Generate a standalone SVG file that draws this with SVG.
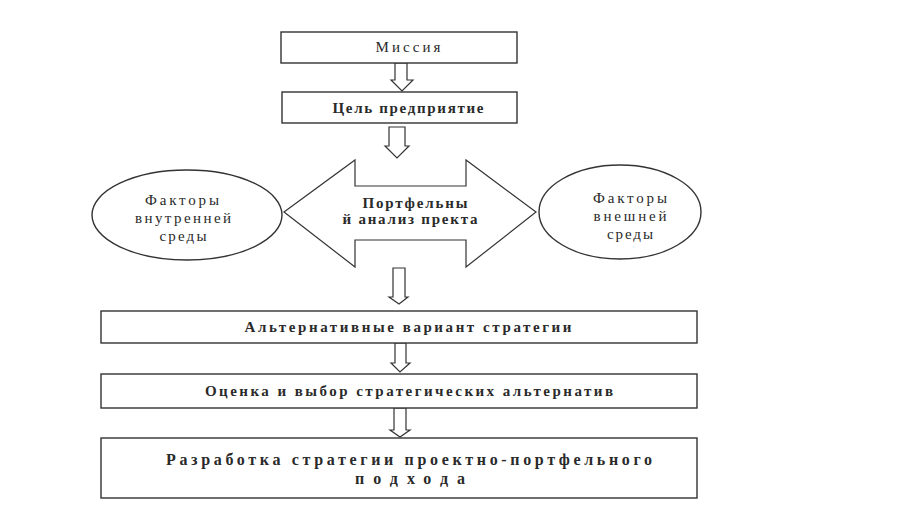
<svg xmlns="http://www.w3.org/2000/svg" width="902" height="506" viewBox="0 0 902 506">
<style>
.box{fill:#fff;stroke:#333;stroke-width:1.4}
.arr{fill:#fff;stroke:#333;stroke-width:1.2;stroke-linejoin:miter}
.t{font-family:"Liberation Serif","Times New Roman",serif;font-size:15px;fill:#2a2a2a;text-anchor:middle}
.b{font-weight:bold}
</style>
<rect width="902" height="506" fill="#fff"/>
<g id="connectors">
<polygon class="arr" points="395,63 407,63 407,80 413,80 402,91 391,80 395,80"/>
<polygon class="arr" points="389,127 405,127 405,146 409,146 397,158 385,146 389,146"/>
<polygon class="arr" points="393,268 405,268 405,297 408,297 399,304 389,297 393,297"/>
<polygon class="arr" points="395,343 406,343 406,363 410,363 400,372 391,363 395,363"/>
<polygon class="arr" points="394,408 406,408 406,430 410,430 400,437 390,430 394,430"/>
</g>
<g id="mission">
<rect class="box" x="281" y="32" width="236" height="31"/>
<text class="t" x="408" y="52" textLength="65" lengthAdjust="spacing">Миссия</text>
</g>
<g id="goal">
<rect class="box" x="282" y="92" width="235" height="31"/>
<text class="t b" x="408" y="113" textLength="151" lengthAdjust="spacing">Цель предприятие</text>
</g>
<g id="portfolio">
<polygon class="arr" points="284,212 355,160 355,186 466,186 466,160 536,212 466,267 466,240 355,240 355,267"/>
<text class="t b" x="415" y="208" textLength="105" lengthAdjust="spacing">Портфельны</text>
<text class="t b" x="410" y="224" textLength="135" lengthAdjust="spacing">й анализ пректа</text>
</g>
<g id="internal">
<ellipse class="box" cx="187" cy="215" rx="95" ry="45"/>
<text class="t" x="182" y="205" textLength="74" lengthAdjust="spacing">Факторы</text>
<text class="t" x="183" y="223" textLength="96" lengthAdjust="spacing">внутренней</text>
<text class="t" x="183" y="241" textLength="47" lengthAdjust="spacing">среды</text>
</g>
<g id="external">
<ellipse class="box" cx="620" cy="212" rx="81" ry="47"/>
<text class="t" x="630" y="203" textLength="74" lengthAdjust="spacing">Факторы</text>
<text class="t" x="630" y="221" textLength="73" lengthAdjust="spacing">внешней</text>
<text class="t" x="630" y="239" textLength="46" lengthAdjust="spacing">среды</text>
</g>
<g id="alternatives">
<rect class="box" x="101" y="311" width="596" height="32"/>
<text class="t b" x="408" y="332" textLength="327" lengthAdjust="spacing">Альтернативные вариант стратегии</text>
</g>
<g id="evaluation">
<rect class="box" x="101" y="374" width="596" height="34"/>
<text class="t b" x="409" y="396" textLength="408" lengthAdjust="spacing">Оценка и выбор стратегических альтернатив</text>
</g>
<g id="development">
<rect class="box" x="101" y="438" width="596" height="60"/>
<text class="t b" x="409" y="465" style="font-size:16px" textLength="486" lengthAdjust="spacing">Разработка стратегии проектно-портфельного</text>
<text class="t b" x="410" y="484" style="font-size:16px" textLength="110" lengthAdjust="spacing">подхода</text>
</g>
</svg>
